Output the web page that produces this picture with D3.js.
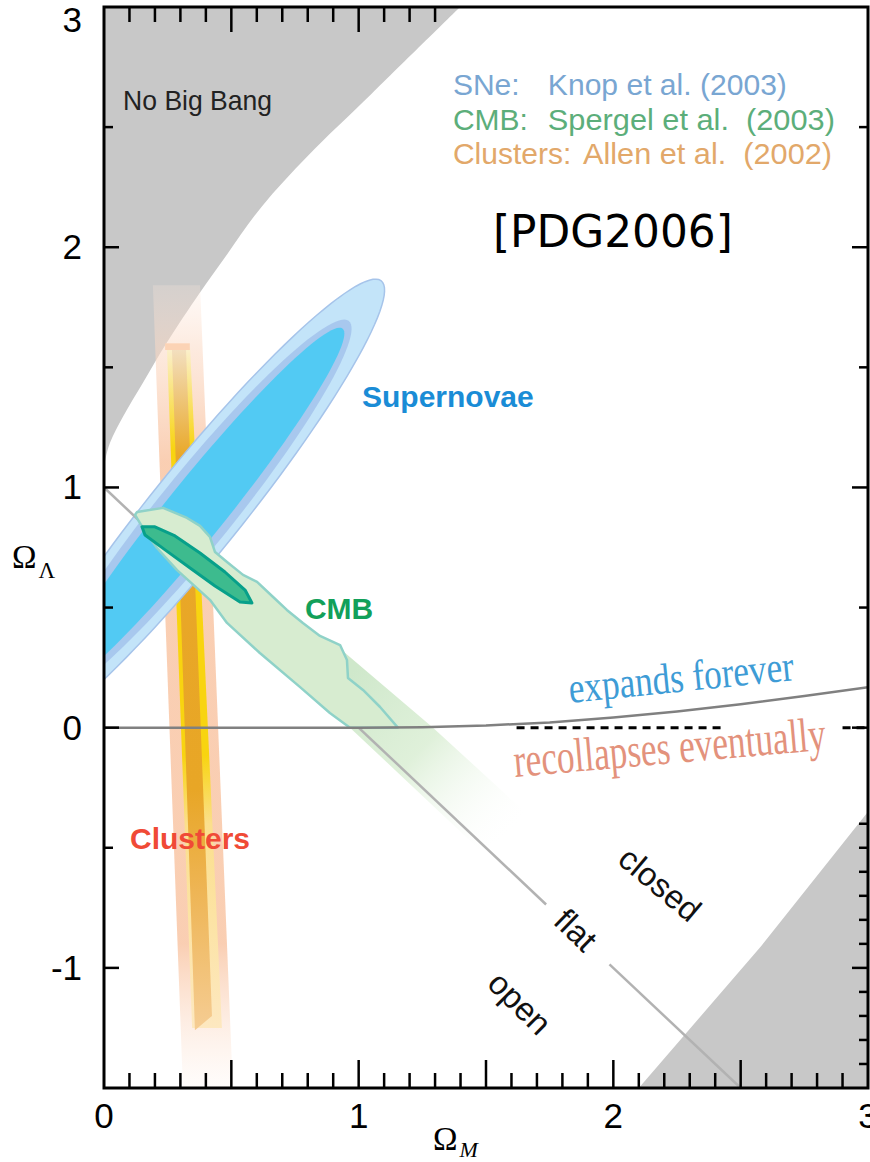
<!DOCTYPE html>
<html>
<head>
<meta charset="utf-8">
<script src="https://cdn.jsdelivr.net/npm/d3@7"></script>
<style>
body { margin: 0; background: #fff; }
svg { display: block; }
</style>
</head>
<body>
<div id="chart"></div>
<script>
// axes
var xDomain = [0, 3];
var yDomain = [-1.5, 3];
var xTickLabels = [0, 1, 2, 3];
var yTickLabels = [-1, 0, 1, 2, 3];

// grey regions: "No Big Bang" boundary (upper left) and lower right corner
var noBigBang = [[0, 1.07], [0.006, 1.12], [0.024, 1.187], [0.075, 1.295], [0.153, 1.436], [0.247, 1.603],
    [0.377, 1.811], [0.483, 1.97], [0.62, 2.17], [0.80, 2.38], [1.052, 2.64], [1.398, 3.0]];
var lowerCorner = [[2.10, -1.5], [2.58, -0.91], [3.0, -0.35], [3.0, -1.5]];

// flat universe line (broken where the "flat" label sits)
var flatLine = [[[0, 1], [1.736, -0.736]], [[1.985, -0.985], [2.5, -1.5]]];
// expands / recollapses boundary
var expandLine = [[0, 0], [1, 0], [1.25, 0.002], [1.5, 0.009], [1.75, 0.022], [2, 0.042],
    [2.25, 0.067], [2.5, 0.097], [2.75, 0.132], [3, 0.168]];
var dashedZero = [[1.62, 2.43], [2.90, 3.0]];

// supernovae confidence ellipses (centre, tilt in degrees, semi axes)
var snCenter = [0.362, 0.905];
var snTilt = 52.8;
var snMajor = [1.20, 0.99, 0.950];
var snMinor = [0.181, 0.149, 0.117];

// CMB contours
var cmbOuter = [[0.130, 0.898], [0.232, 0.915], [0.326, 0.873], [0.377, 0.840], [0.416, 0.794], [0.436, 0.731],
    [0.483, 0.690], [0.546, 0.636], [0.601, 0.607], [0.664, 0.544], [0.718, 0.490], [0.781, 0.436],
    [0.848, 0.382], [0.927, 0.344], [0.954, 0.282], [0.958, 0.207], [1.017, 0.157], [1.084, 0.086],
    [1.154, 0.0], [0.966, 0.0], [0.887, 0.061], [0.770, 0.169], [0.612, 0.311], [0.483, 0.436],
    [0.416, 0.532], [0.287, 0.656], [0.208, 0.748], [0.153, 0.831], [0.122, 0.886]];
var cmbTail = [[0.887, 0.365], [1.292, 0.0], [1.653, -0.351], [1.594, -0.446], [1.476, -0.509], [0.966, 0.0], [0.770, 0.169]];
var cmbInner = [[0.149, 0.836], [0.200, 0.836], [0.279, 0.798], [0.377, 0.727], [0.475, 0.648], [0.554, 0.573],
    [0.581, 0.519], [0.534, 0.523], [0.436, 0.590], [0.338, 0.665], [0.240, 0.740], [0.161, 0.802]];

// cluster bands
var clusterHalo = [[0.192, 1.842], [0.377, 1.842], [0.506, -1.5], [0.310, -1.5]];
var clusterYellow = [[0.247, 1.584], [0.338, 1.584], [0.463, -1.25], [0.346, -1.25]];
var clusterCore = [[0.267, 1.572], [0.322, 1.572], [0.424, -1.20], [0.357, -1.26]];
var clusterCap = [[0.240, 1.600], [0.337, 1.600], [0.337, 1.572], [0.240, 1.572]];

var legendNames = ["SNe:", "CMB:", "Clusters:"];
var legendRefs = ["Knop et al. (2003)", "Spergel et al.  (2003)", "Allen et al.  (2002)"];

var width = 870, height = 1162;
var margin = {top: 7, right: 2, bottom: 74, left: 104};

var x = d3.scaleLinear().domain(xDomain).range([margin.left, width - margin.right]);
var y = d3.scaleLinear().domain(yDomain).range([height - margin.bottom, margin.top]);

var svg = d3.select("#chart").append("svg")
    .attr("width", width)
    .attr("height", height);
var defs = svg.append("defs");

defs.append("clipPath").attr("id", "plotClip")
    .append("rect")
    .attr("x", x(0)).attr("y", y(3))
    .attr("width", x(3) - x(0)).attr("height", y(-1.5) - y(3));

function vGrad(id, y1, y2, stops) {
    var g = defs.append("linearGradient").attr("id", id)
        .attr("gradientUnits", "userSpaceOnUse")
        .attr("x1", 0).attr("x2", 0)
        .attr("y1", y(y1)).attr("y2", y(y2));
    stops.forEach(function(s) {
        g.append("stop").attr("offset", s[0]).attr("stop-color", s[1]).attr("stop-opacity", s[2]);
    });
}
vGrad("haloGrad", 1.842, -1.5, [[0, "#fde8dc", 0.25], [0.08, "#fbd9c4", 0.55], [0.22, "#f9c9aa", 0.9],
    [0.82, "#f9c9aa", 0.9], [1, "#fde6d8", 0.1]]);
vGrad("yellowGrad", 1.584, -1.25, [[0, "#fbf0d0", 1], [0.15, "#f8d410", 1], [0.6, "#f8d410", 1], [0.7, "#fbdf8c", 1], [1, "#fde8c0", 1]]);
vGrad("coreGrad", 1.584, -1.25, [[0, "#f3e0c2", 1], [0.16, "#e9a828", 1], [0.65, "#e8a626", 1], [0.8, "#eeb555", 1], [1, "#f5cc92", 1]]);

var tailGrad = defs.append("linearGradient").attr("id", "tailGrad")
    .attr("gradientUnits", "userSpaceOnUse")
    .attr("x1", x(0.95)).attr("y1", y(0.2))
    .attr("x2", x(1.6)).attr("y2", y(-0.45));
tailGrad.append("stop").attr("offset", 0).attr("stop-color", "#cfe8cb").attr("stop-opacity", 1);
tailGrad.append("stop").attr("offset", 0.45).attr("stop-color", "#dcefd6").attr("stop-opacity", 0.9);
tailGrad.append("stop").attr("offset", 1).attr("stop-color", "#ffffff").attr("stop-opacity", 0);

var line = d3.line().x(function(d) { return x(d[0]); }).y(function(d) { return y(d[1]); });
var smooth = d3.line().x(function(d) { return x(d[0]); }).y(function(d) { return y(d[1]); })
    .curve(d3.curveCatmullRom);
function closed(pts) { return line(pts) + "Z"; }

var plot = svg.append("g").attr("clip-path", "url(#plotClip)");

plot.append("path")
    .attr("d", smooth(noBigBang) + "L" + x(0) + "," + y(3) + "Z")
    .attr("fill", "#c8c8c8");
plot.append("path").attr("d", closed(lowerCorner)).attr("fill", "#c8c8c8");

// clusters
plot.append("path").attr("d", closed(clusterHalo)).attr("fill", "url(#haloGrad)");
plot.append("path").attr("d", closed(clusterYellow)).attr("fill", "url(#yellowGrad)");
plot.append("path").attr("d", closed(clusterCore)).attr("fill", "url(#coreGrad)");
plot.append("path").attr("d", closed(clusterCap)).attr("fill", "#fcd3b5");

// supernovae
function ellipse(c, tilt, a, b) {
    var t = tilt * Math.PI / 180, pts = [];
    for (var i = 0; i < 120; i++) {
        var f = 2 * Math.PI * i / 120;
        pts.push([c[0] + a * Math.cos(f) * Math.cos(t) - b * Math.sin(f) * Math.sin(t),
                  c[1] + a * Math.cos(f) * Math.sin(t) + b * Math.sin(f) * Math.cos(t)]);
    }
    return pts;
}
var snFill = ["#c3e4f9", "#a8c8ee", "#52caf3"];
snMajor.forEach(function(a, i) {
    plot.append("path")
        .attr("d", closed(ellipse(snCenter, snTilt, a, snMinor[i])))
        .attr("fill", snFill[i])
        .attr("stroke", i == 0 ? "#a6c4ea" : "none")
        .attr("stroke-width", 1.5);
});

// CMB tail, flat line, CMB contours
plot.append("path").attr("d", closed(cmbTail)).attr("fill", "url(#tailGrad)");

flatLine.forEach(function(seg) {
    plot.append("path").attr("d", line(seg))
        .attr("fill", "none").attr("stroke", "#b2b2b2").attr("stroke-width", 2.5);
});

plot.append("path").attr("d", closed(cmbOuter))
    .attr("fill", "#d7ecd0").attr("stroke", "#8fd2c8").attr("stroke-width", 2.5)
    .attr("stroke-linejoin", "round");
plot.append("path").attr("d", closed(cmbInner))
    .attr("fill", "#3dbb8e").attr("stroke", "#07a08a").attr("stroke-width", 3)
    .attr("stroke-linejoin", "round");

plot.append("path").attr("d", line(expandLine))
    .attr("fill", "none").attr("stroke", "#808080").attr("stroke-width", 2.5);
dashedZero.forEach(function(seg) {
    plot.append("line")
        .attr("x1", x(seg[0])).attr("x2", x(seg[1]))
        .attr("y1", y(0)).attr("y2", y(0))
        .attr("stroke", "#000").attr("stroke-width", 3)
        .attr("stroke-dasharray", "8,6");
});

// frame and ticks
var axes = svg.append("g").attr("stroke", "#000");
function ticks(vals, side, longLen, shortLen, isLong) {
    vals.forEach(function(v) {
        var len = isLong(v) ? longLen : shortLen;
        var l = axes.append("line").attr("stroke-width", 2.5);
        if (side == "bottom") l.attr("x1", x(v)).attr("x2", x(v)).attr("y1", y(-1.5)).attr("y2", y(-1.5) - len);
        if (side == "top") l.attr("x1", x(v)).attr("x2", x(v)).attr("y1", y(3)).attr("y2", y(3) + len);
        if (side == "left") l.attr("y1", y(v)).attr("y2", y(v)).attr("x1", x(0)).attr("x2", x(0) + len);
        if (side == "right") l.attr("y1", y(v)).attr("y2", y(v)).attr("x1", x(3)).attr("x2", x(3) - len);
    });
}
function near(v, step) { return Math.abs(v / step - Math.round(v / step)) < 1e-6; }
var tenthsX = d3.range(1, 30).map(function(i) { return i / 10; });
var tenthsY = d3.range(-14, 30).map(function(i) { return i / 10; });
ticks(tenthsX, "bottom", 28, 15, function(v) { return near(v, 0.5); });
ticks(tenthsX.filter(function(v) { return v < 1.4; }), "top", 25, 15, function(v) { return near(v, 0.5); });
ticks(tenthsY.filter(function(v) { return near(v, 0.5); }), "left", 15, 9, function(v) { return near(v, 1); });
ticks(tenthsY.filter(function(v) { return near(v, 0.5) || v < -0.3; }), "right", 16, 9, function(v) { return near(v, 1); });

axes.append("rect")
    .attr("x", x(0)).attr("y", y(3))
    .attr("width", x(3) - x(0)).attr("height", y(-1.5) - y(3))
    .attr("fill", "none").attr("stroke-width", 3);

var labels = svg.append("g").attr("font-family", "'Liberation Sans', Arial, sans-serif");

labels.selectAll(".xl").data(xTickLabels).enter().append("text")
    .attr("x", function(d) { return x(d); })
    .attr("y", y(-1.5) + 40)
    .attr("text-anchor", "middle")
    .attr("font-size", 35)
    .text(function(d) { return d; });
labels.selectAll(".yl").data(yTickLabels).enter().append("text")
    .attr("x", x(0) - 22)
    .attr("y", function(d) { return Math.max(y(d), 20) + 12; })
    .attr("text-anchor", "end")
    .attr("font-size", 35)
    .text(function(d) { return d; });

// axis titles
var yTitle = labels.append("text").attr("x", 12).attr("y", 568)
    .attr("font-family", "'Liberation Serif', serif").attr("font-size", 33).text("Ω");
yTitle.append("tspan").attr("dx", 2).attr("dy", 10).attr("font-size", 23).text("Λ");
var xTitle = labels.append("text").attr("x", 433).attr("y", 1150)
    .attr("font-family", "'Liberation Serif', serif").attr("font-size", 33).text("Ω");
xTitle.append("tspan").attr("dx", 2).attr("dy", 7).attr("font-size", 22).attr("font-style", "italic").text("M");

// annotations
labels.append("text").attr("x", x(0.075)).attr("y", y(2.572))
    .attr("font-size", 28).attr("fill", "#222")
    .attr("textLength", 149).attr("lengthAdjust", "spacingAndGlyphs")
    .text("No Big Bang");

var legendColors = ["#79a6d2", "#5cae7a", "#e2a86a"];
var legendY = [2.634, 2.488, 2.348];
var refX = [1.743, 1.743, 1.881];
var refLen = [239, 287, 249];
legendNames.forEach(function(name, i) {
    labels.append("text").attr("x", x(1.370)).attr("y", y(legendY[i]))
        .attr("font-size", 30).attr("fill", legendColors[i]).text(name);
    labels.append("text").attr("x", x(refX[i])).attr("y", y(legendY[i]))
        .attr("font-size", 30).attr("fill", legendColors[i])
        .attr("textLength", refLen[i]).attr("lengthAdjust", "spacingAndGlyphs")
        .style("white-space", "pre").text(legendRefs[i]);
});

labels.append("text").attr("x", x(1.527)).attr("y", y(2.0))
    .attr("font-family", "'Comic Sans MS', 'DejaVu Sans', sans-serif")
    .attr("font-size", 44)
    .attr("textLength", 240).attr("lengthAdjust", "spacingAndGlyphs")
    .text("[PDG2006]");

labels.append("text").attr("x", x(1.013)).attr("y", y(1.334))
    .attr("font-size", 30).attr("font-weight", "bold").attr("fill", "#1a8cd6").text("Supernovae");
labels.append("text").attr("x", x(0.789)).attr("y", y(0.453))
    .attr("font-size", 30).attr("font-weight", "bold").attr("fill", "#12a05a").text("CMB");
labels.append("text").attr("x", x(0.102)).attr("y", y(-0.505))
    .attr("font-size", 30).attr("font-weight", "bold").attr("fill", "#f04a36").text("Clusters");

function rotated(txt, dx, dy, angle, size, len, color, family, anchor) {
    var t = labels.append("text")
        .attr("transform", "translate(" + x(dx) + "," + y(dy) + ") rotate(" + angle + ")")
        .attr("font-size", size).attr("fill", color)
        .attr("text-anchor", anchor)
        .text(txt);
    if (family) t.attr("font-family", family);
    if (len) t.attr("textLength", len).attr("lengthAdjust", "spacingAndGlyphs");
    return t;
}
rotated("expands forever", 1.830, 0.103, -5.8, 43, 226, "#3e9cd6", "'Liberation Serif', serif", "start");
rotated("recollapses eventually", 1.614, -0.205, -5, 48, 313, "#e3927c", "'Liberation Serif', serif", "start");
rotated("closed", 2.183, -0.651, 40, 33, null, "#111", null, "middle").attr("dy", "0.35em");
rotated("flat", 1.853, -0.842, 44, 33, null, "#111", null, "middle").attr("dy", "0.35em");
rotated("open", 1.633, -1.146, 45, 33, null, "#111", null, "middle").attr("dy", "0.35em");
</script>
</body>
</html>
